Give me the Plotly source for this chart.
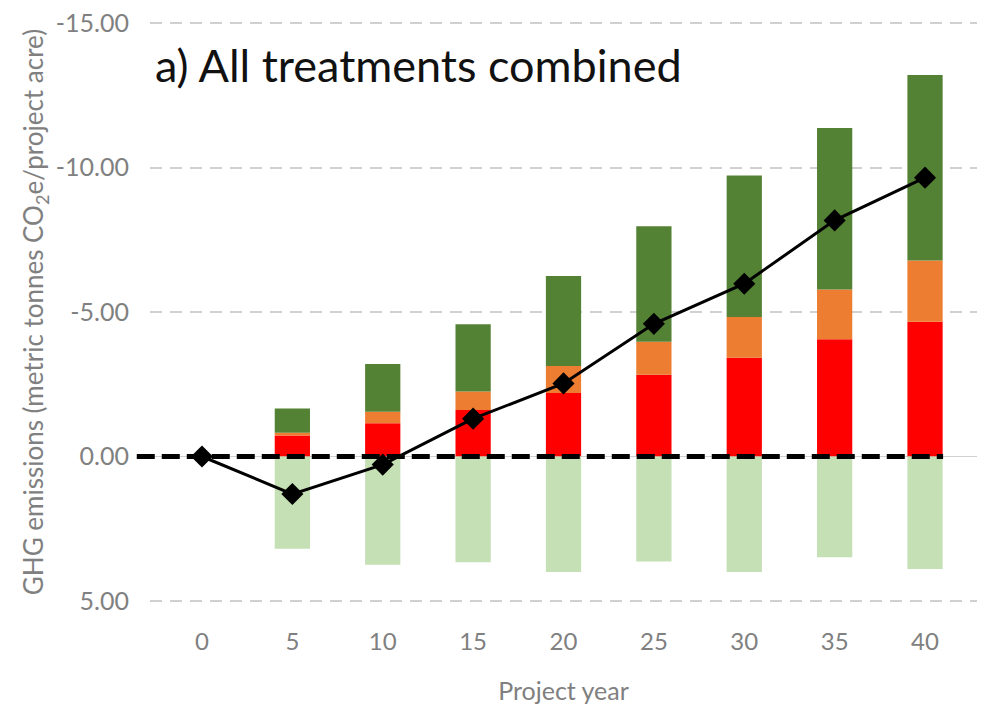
import plotly.graph_objects as go

years = ["0", "5", "10", "15", "20", "25", "30", "35", "40"]
red_vals = [0, -0.73, -1.15, -1.61, -2.20, -2.83, -3.42, -4.06, -4.66]
orange_vals = [0, -0.09, -0.40, -0.64, -0.93, -1.14, -1.41, -1.72, -2.12]
dkgreen_vals = [0, -0.84, -1.65, -2.33, -3.12, -4.00, -4.89, -5.59, -6.42]
ltgreen_vals = [0, 3.19, 3.75, 3.66, 4.00, 3.63, 4.00, 3.49, 3.89]
net_vals = [0, 1.30, 0.28, -1.31, -2.53, -4.59, -5.98, -8.17, -9.65]
y_ticks = [-15, -10, -5, 0, 5]
y_tick_text = ["-15.00", "-10.00", "-5.00", "0.00", "5.00"]

FONT = "Lato"
GRAY = "#808080"

fig = go.Figure()
fig.add_trace(go.Bar(x=years, y=red_vals, marker=dict(color="#ff0000", line=dict(width=0)), name="red"))
fig.add_trace(go.Bar(x=years, y=orange_vals, marker=dict(color="#ed7d31", line=dict(width=0)), name="orange"))
fig.add_trace(go.Bar(x=years, y=dkgreen_vals, marker=dict(color="#548235", line=dict(width=0)), name="dkgreen"))
fig.add_trace(go.Bar(x=years, y=ltgreen_vals, marker=dict(color="#c5e0b4", line=dict(width=0)), name="ltgreen"))
fig.add_trace(go.Scatter(x=years, y=net_vals, mode="lines+markers",
                         line=dict(color="black", width=3),
                         marker=dict(symbol="diamond", size=17, color="black"), name="net"))

fig.add_shape(type="line", xref="paper", yref="y", x0=-0.016, x1=0.959, y0=0, y1=0,
              line=dict(color="black", width=5, dash="18px,7px"), layer="above")

fig.add_annotation(text="a) All treatments combined", xref="paper", yref="paper",
                   x=0.004, y=0.924, xanchor="left", yanchor="middle", showarrow=False,
                   font=dict(family=FONT, size=45, color="#111111"))

fig.update_layout(
    width=984, height=705,
    margin=dict(l=150, r=7, t=21, b=102, autoexpand=False),
    barmode="relative", bargap=0.61,
    plot_bgcolor="white", paper_bgcolor="white",
    showlegend=False,
    font=dict(family=FONT, color=GRAY, size=24),
    xaxis=dict(title=dict(text="Project year", font=dict(size=25, color=GRAY), standoff=31),
               tickfont=dict(size=24, color=GRAY), showgrid=False, zeroline=False,
               showline=False, ticks="", ticklabelstandoff=22),
    yaxis=dict(title=dict(text="GHG emissions (metric tonnes CO<sub>2</sub>e/project acre)",
                          font=dict(size=26, color=GRAY), standoff=4),
               range=[5.07, -15.07], tickvals=y_ticks, ticktext=y_tick_text,
               tickfont=dict(size=25, color=GRAY),
               showgrid=True, gridcolor="#d0d0d0", gridwidth=1.5, griddash="12px,8px",
               zeroline=True, zerolinecolor="#d0d0d0", zerolinewidth=1,
               showline=False, ticks="", ticklabelstandoff=20),
)

fig.write_html("out.html", config={"displayModeBar": False},
               post_script="document.body.style.margin='0';document.body.style.overflow='hidden';")
